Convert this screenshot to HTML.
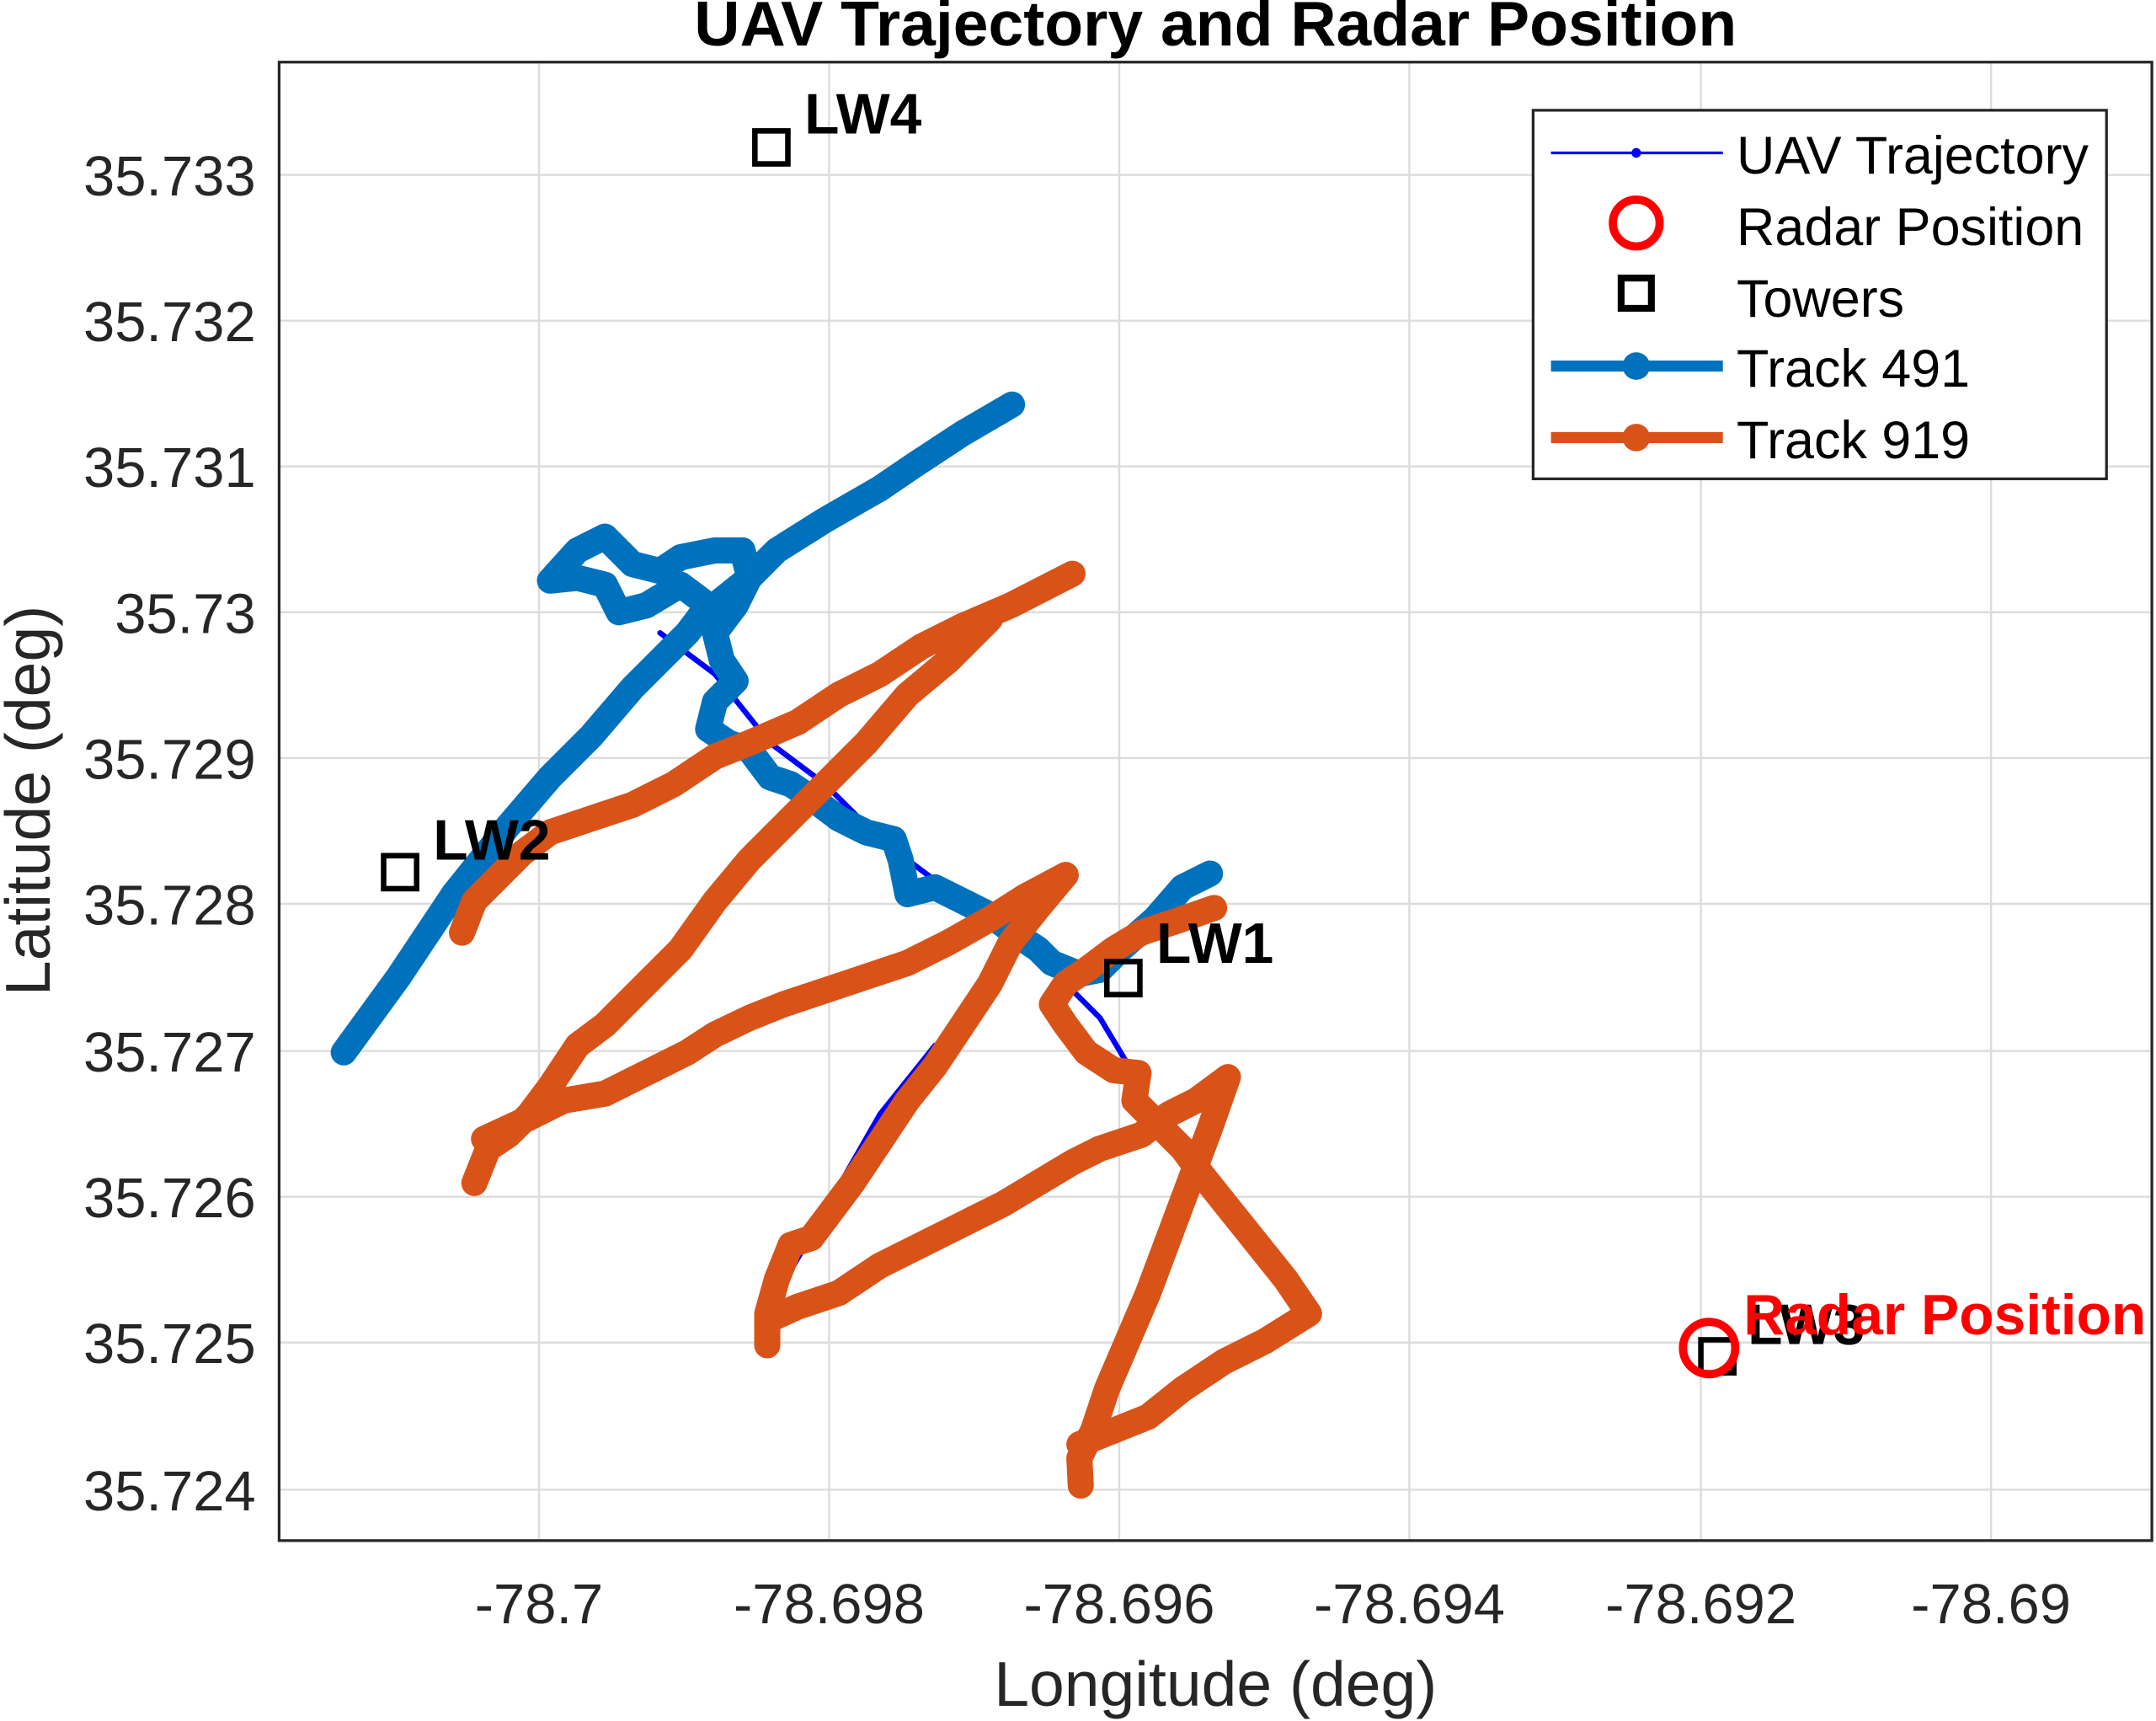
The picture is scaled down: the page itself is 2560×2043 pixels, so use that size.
<!DOCTYPE html>
<html><head><meta charset="utf-8"><style>
html,body{margin:0;padding:0;background:#fff;}
svg{display:block;}
text{font-family:"Liberation Sans",Arial,sans-serif;}
</style></head><body>
<svg width="2560" height="2043" viewBox="0 0 1568 1251" xmlns="http://www.w3.org/2000/svg">
<rect width="1568" height="1251" fill="#fff"/>
<g stroke="#dcdcdc" stroke-width="1.5">
<line x1="392" y1="45" x2="392" y2="1120"/><line x1="603" y1="45" x2="603" y2="1120"/>
<line x1="814" y1="45" x2="814" y2="1120"/><line x1="1025" y1="45" x2="1025" y2="1120"/>
<line x1="1237" y1="45" x2="1237" y2="1120"/><line x1="1448" y1="45" x2="1448" y2="1120"/>
<line x1="203" y1="127" x2="1565" y2="127"/><line x1="203" y1="233" x2="1565" y2="233"/>
<line x1="203" y1="339" x2="1565" y2="339"/><line x1="203" y1="445" x2="1565" y2="445"/>
<line x1="203" y1="551" x2="1565" y2="551"/><line x1="203" y1="657" x2="1565" y2="657"/>
<line x1="203" y1="764" x2="1565" y2="764"/><line x1="203" y1="870" x2="1565" y2="870"/>
<line x1="203" y1="976" x2="1565" y2="976"/><line x1="203" y1="1083" x2="1565" y2="1083"/>
</g>
<g fill="none" stroke-linecap="round" stroke-linejoin="round">
<polyline stroke="#0000ff" stroke-width="4" points="480,460 520,490 560,540 600,570 640,610 680,640 720,660 760,700 800,740 830,790"/>
<polyline stroke="#0000ff" stroke-width="4" points="560,950 600,880 640,810 680,760"/>
<polyline stroke="#0072bd" stroke-width="19" points="250,765 290,710 330,650 370,600 400,565 430,535 460,500 490,470 500,460 515,440 495,425 470,440 450,445 440,425 420,420 400,422 420,400 440,390 450,400 460,410 480,415 495,405 520,400 540,400 545,420 535,440 520,460 525,480 535,495 520,510 515,530 530,540 545,545 560,565 575,570 590,580 610,595 630,605 650,610 655,625 660,650 680,645 700,655 720,665 740,680 755,690 765,700 785,708 800,705 815,690 840,668 860,645 880,635"/>
<polyline stroke="#0072bd" stroke-width="19" points="520,440 545,420 565,400 600,378 640,355 665,338 700,315 736,294"/>
<polyline stroke="#d95319" stroke-width="19" points="336,678 345,655 360,640 380,620 400,605 430,595 460,585 490,570 520,550 545,540 580,525 610,505 640,490 670,470 700,455 735,440 780,417"/>
<polyline stroke="#d95319" stroke-width="19" points="720,450 690,480 660,505 630,540 600,570 570,600 545,625 520,655 495,690 470,715 440,745 420,760 400,790 385,810 370,825 355,835 345,860"/>
<polyline stroke="#d95319" stroke-width="19" points="352,828 380,815 410,800 440,795 470,780 500,765 520,752 545,740 570,730 600,720 630,710 660,700 690,685 720,668 745,652 775,636"/>
<polyline stroke="#d95319" stroke-width="19" points="775,636 755,660 735,685 720,715 700,745 680,775 660,800 640,830 620,860 605,880 590,900 575,905 565,930 558,955 558,978"/>
<polyline stroke="#d95319" stroke-width="19" points="558,960 580,950 610,940 640,920 670,905 700,890 730,875 755,860 780,845 800,835 830,825 850,810 870,800 893,783 880,820 865,860 850,900 835,940 820,975 805,1010 795,1040 785,1060 786,1080"/>
<polyline stroke="#d95319" stroke-width="19" points="785,1050 810,1040 835,1030 860,1010 890,990 920,975 952,955 935,930 915,905 895,880 875,855 860,835 840,815 825,800 828,780 810,778 790,765 775,745 765,730 775,715 790,705 810,690 830,678 860,668 883,660"/>
</g>
<g fill="none" stroke="#000" stroke-width="4">
<rect x="549" y="95" width="24" height="24"/>
<rect x="279" y="622" width="24" height="24"/>
<rect x="805" y="699" width="24" height="24"/>
<rect x="1237" y="974" width="24" height="24"/>
</g>
<circle cx="1243" cy="980" r="19" fill="none" stroke="#ff0000" stroke-width="6"/>
<g font-weight="bold" font-size="41.5" fill="#000">
<text x="585" y="97">LW4</text>
<text x="315" y="625">LW2</text>
<text x="841" y="700">LW1</text>
<text x="1271" y="977">LW3</text>
</g>
<text x="1268" y="970" font-weight="bold" font-size="41.5" fill="#ff0000">Radar Position</text>
<rect x="203" y="45" width="1362" height="1075" fill="none" stroke="#262626" stroke-width="2"/>
<g font-size="41" fill="#262626" text-anchor="middle">
<text x="392" y="1180">-78.7</text><text x="603" y="1180">-78.698</text>
<text x="814" y="1180">-78.696</text><text x="1025" y="1180">-78.694</text>
<text x="1237" y="1180">-78.692</text><text x="1448" y="1180">-78.69</text>
</g>
<g font-size="41" fill="#262626" text-anchor="end">
<text x="186" y="142">35.733</text><text x="186" y="248">35.732</text>
<text x="186" y="354">35.731</text><text x="186" y="460">35.73</text>
<text x="186" y="566">35.729</text><text x="186" y="672">35.728</text>
<text x="186" y="779">35.727</text><text x="186" y="885">35.726</text>
<text x="186" y="991">35.725</text><text x="186" y="1098">35.724</text>
</g>
<text x="884" y="1240" font-size="46" fill="#262626" text-anchor="middle">Longitude (deg)</text>
<text transform="translate(36,582) rotate(-90)" font-size="46" fill="#262626" text-anchor="middle">Latitude (deg)</text>
<text x="884" y="33" font-size="46" font-weight="bold" fill="#000" text-anchor="middle">UAV Trajectory and Radar Position</text>
<rect x="1115" y="80" width="417" height="268" fill="#fff" stroke="#262626" stroke-width="2"/>
<line x1="1128" y1="111" x2="1253" y2="111" stroke="#0000ff" stroke-width="2"/>
<circle cx="1190" cy="111" r="3.5" fill="#0000ff"/>
<circle cx="1190" cy="162" r="17" fill="none" stroke="#ff0000" stroke-width="6"/>
<rect x="1179" y="202" width="22" height="22" fill="none" stroke="#000" stroke-width="5"/>
<line x1="1128" y1="266" x2="1253" y2="266" stroke="#0072bd" stroke-width="8"/>
<circle cx="1190" cy="266" r="10" fill="#0072bd"/>
<line x1="1128" y1="318" x2="1253" y2="318" stroke="#d95319" stroke-width="8"/>
<circle cx="1190" cy="318" r="10" fill="#d95319"/>
<g font-size="38.5" fill="#000">
<text x="1263" y="126">UAV Trajectory</text>
<text x="1263" y="178">Radar Position</text>
<text x="1263" y="230">Towers</text>
<text x="1263" y="281">Track 491</text>
<text x="1263" y="333">Track 919</text>
</g>
</svg>
</body></html>
